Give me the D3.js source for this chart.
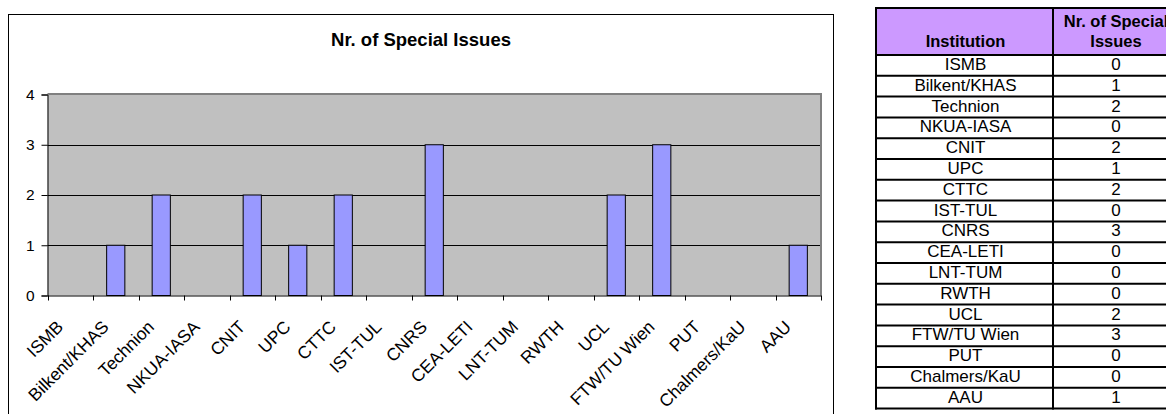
<!DOCTYPE html>
<html>
<head>
<meta charset="utf-8">
<script src="https://cdn.jsdelivr.net/npm/d3@7"></script>
<style>
  html, body { margin: 0; padding: 0; background: #fff; }
  svg { display: block; font-family: Arial, "Liberation Sans", sans-serif; }
</style>
</head>
<body>
<svg id="chart" width="1166" height="414"></svg>
<script>
// ---- data ----
const categories = ["ISMB", "Bilkent/KHAS", "Technion", "NKUA-IASA", "CNIT", "UPC", "CTTC", "IST-TUL",
  "CNRS", "CEA-LETI", "LNT-TUM", "RWTH", "UCL", "FTW/TU Wien", "PUT", "Chalmers/KaU", "AAU"];
const values = [0, 1, 2, 0, 2, 1, 2, 0, 3, 0, 0, 0, 2, 3, 0, 0, 1];
const yTicks = [0, 1, 2, 3, 4];
const chartTitle = "Nr. of Special Issues";
const tableHeaders = ["Institution", ["Nr. of Special", "Issues"]];

// ---- layout ----
const svg = d3.select("#chart");
const frame = { x: 8.5, y: 14.5, w: 825, h: 420 };
const plot = { left: 47.5, right: 821, top: 94.5, bottom: 295.5 };
const FONT = "Arial, 'Liberation Sans', sans-serif";

// chart frame
svg.append("rect")
  .attr("x", frame.x).attr("y", frame.y)
  .attr("width", frame.w).attr("height", frame.h)
  .attr("fill", "#fff").attr("stroke", "#000").attr("stroke-width", 1);

// title
svg.append("text")
  .attr("x", frame.x + frame.w / 2).attr("y", 46)
  .attr("text-anchor", "middle")
  .attr("font-size", 18.5).attr("font-weight", "bold")
  .text(chartTitle);

const x = d3.scaleBand().domain(categories).range([plot.left, plot.right]).paddingInner(0).paddingOuter(0);
const y = d3.scaleLinear().domain([0, 4]).range([plot.bottom, plot.top]);

// plot area background
svg.append("rect")
  .attr("x", plot.left).attr("y", plot.top)
  .attr("width", plot.right - plot.left).attr("height", plot.bottom - plot.top)
  .attr("fill", "#c0c0c0");

// gridlines
svg.append("g").selectAll("line")
  .data(yTicks.filter(t => t > 0 && t < 4))
  .join("line")
  .attr("x1", plot.left).attr("x2", plot.right)
  .attr("y1", d => Math.round(y(d)) + 0.5).attr("y2", d => Math.round(y(d)) + 0.5)
  .attr("stroke", "#000").attr("stroke-width", 1);

// plot border (top & right, gray)
svg.append("path")
  .attr("d", `M${plot.left},${plot.top - 0.5}H${plot.right}V${plot.bottom}`)
  .attr("fill", "none").attr("stroke", "#808080").attr("stroke-width", 2);

// bars
const barW = x.bandwidth() * 0.4;
svg.append("g").selectAll("rect")
  .data(categories.map((c, i) => ({ c, v: values[i] })).filter(d => d.v > 0))
  .join("rect")
  .attr("x", d => x(d.c) + (x.bandwidth() - barW) / 2)
  .attr("y", d => y(d.v))
  .attr("width", barW)
  .attr("height", d => y(0) - y(d.v))
  .attr("fill", "#9999ff").attr("stroke", "#000").attr("stroke-width", 1);

// y axis
const yAxis = d3.axisLeft(y).tickValues(yTicks).tickSize(6).tickPadding(7).tickFormat(d3.format("d"));
const gy = svg.append("g").attr("transform", `translate(${plot.left},0)`).call(yAxis);
gy.select(".domain").attr("stroke", "#000");
gy.selectAll(".tick line").attr("stroke", "#000");
gy.selectAll(".tick text").attr("font-size", 15.5).attr("fill", "#000").attr("font-family", FONT);

// x axis: domain line + boundary ticks
const xAxis = d3.axisBottom(x).tickSize(0).tickFormat("");
const gx = svg.append("g").attr("transform", `translate(0,${plot.bottom})`).call(xAxis);
gx.select(".domain").attr("stroke", "#000");
gx.selectAll(".tick").remove();
const boundaries = categories.map(c => x(c)).concat([x(categories[categories.length - 1]) + x.bandwidth()]);
gx.selectAll("line.bt").data(boundaries).join("line").attr("class", "bt")
  .attr("x1", d => Math.round(d) + 0.5).attr("x2", d => Math.round(d) + 0.5)
  .attr("y1", 0).attr("y2", 5).attr("stroke", "#000");

// x labels rotated
svg.append("g").selectAll("text")
  .data(categories)
  .join("text")
  .attr("transform", d => `translate(${x(d) + x.bandwidth() / 2 - 6},328) rotate(-45)`)
  .attr("text-anchor", "end")
  .attr("font-size", 17.5)
  .text(d => d);

// ---- table ----
const tbl = { left: 876, mid: 1053, right: 1180, top: 8, headBottom: 55, rowH: 20.8 };
const tg = svg.append("g");
tg.append("rect")
  .attr("x", tbl.left).attr("y", tbl.top)
  .attr("width", tbl.right - tbl.left).attr("height", tbl.headBottom - tbl.top)
  .attr("fill", "#cc99ff");
const rowY = d3.scaleLinear().domain([0, categories.length]).range([tbl.headBottom, tbl.headBottom + tbl.rowH * categories.length]);
// horizontal lines
const hLines = [tbl.top].concat(d3.range(categories.length + 1).map(i => rowY(i)));
tg.selectAll("line.h").data(hLines).join("line").attr("class", "h")
  .attr("x1", tbl.left - 1).attr("x2", tbl.right)
  .attr("y1", d => d).attr("y2", d => d)
  .attr("stroke", "#000").attr("stroke-width", 2);
// vertical lines
tg.selectAll("line.v").data([tbl.left, tbl.mid, tbl.right]).join("line").attr("class", "v")
  .attr("x1", d => d).attr("x2", d => d)
  .attr("y1", tbl.top - 1).attr("y2", rowY(categories.length) + 1)
  .attr("stroke", "#000").attr("stroke-width", 2);

const c1 = (tbl.left + tbl.mid) / 2 + 1, c2 = 1116;
// header
tg.append("text").attr("x", c1).attr("y", 46.5).attr("text-anchor", "middle")
  .attr("font-size", 16.5).attr("font-weight", "bold").text(tableHeaders[0]);
tg.append("text").attr("x", c2).attr("y", 26.5).attr("text-anchor", "middle")
  .attr("font-size", 16.5).attr("font-weight", "bold").text(tableHeaders[1][0]);
tg.append("text").attr("x", c2).attr("y", 46.5).attr("text-anchor", "middle")
  .attr("font-size", 16.5).attr("font-weight", "bold").text(tableHeaders[1][1]);
// rows
tg.selectAll("text.n").data(categories).join("text").attr("class", "n")
  .attr("x", c1).attr("y", (d, i) => rowY(i) + 15)
  .attr("text-anchor", "middle").attr("font-size", 17).text(d => d);
tg.selectAll("text.v").data(values).join("text").attr("class", "v")
  .attr("x", c2).attr("y", (d, i) => rowY(i) + 15)
  .attr("text-anchor", "middle").attr("font-size", 17).text(d => d);
</script>
</body>
</html>
